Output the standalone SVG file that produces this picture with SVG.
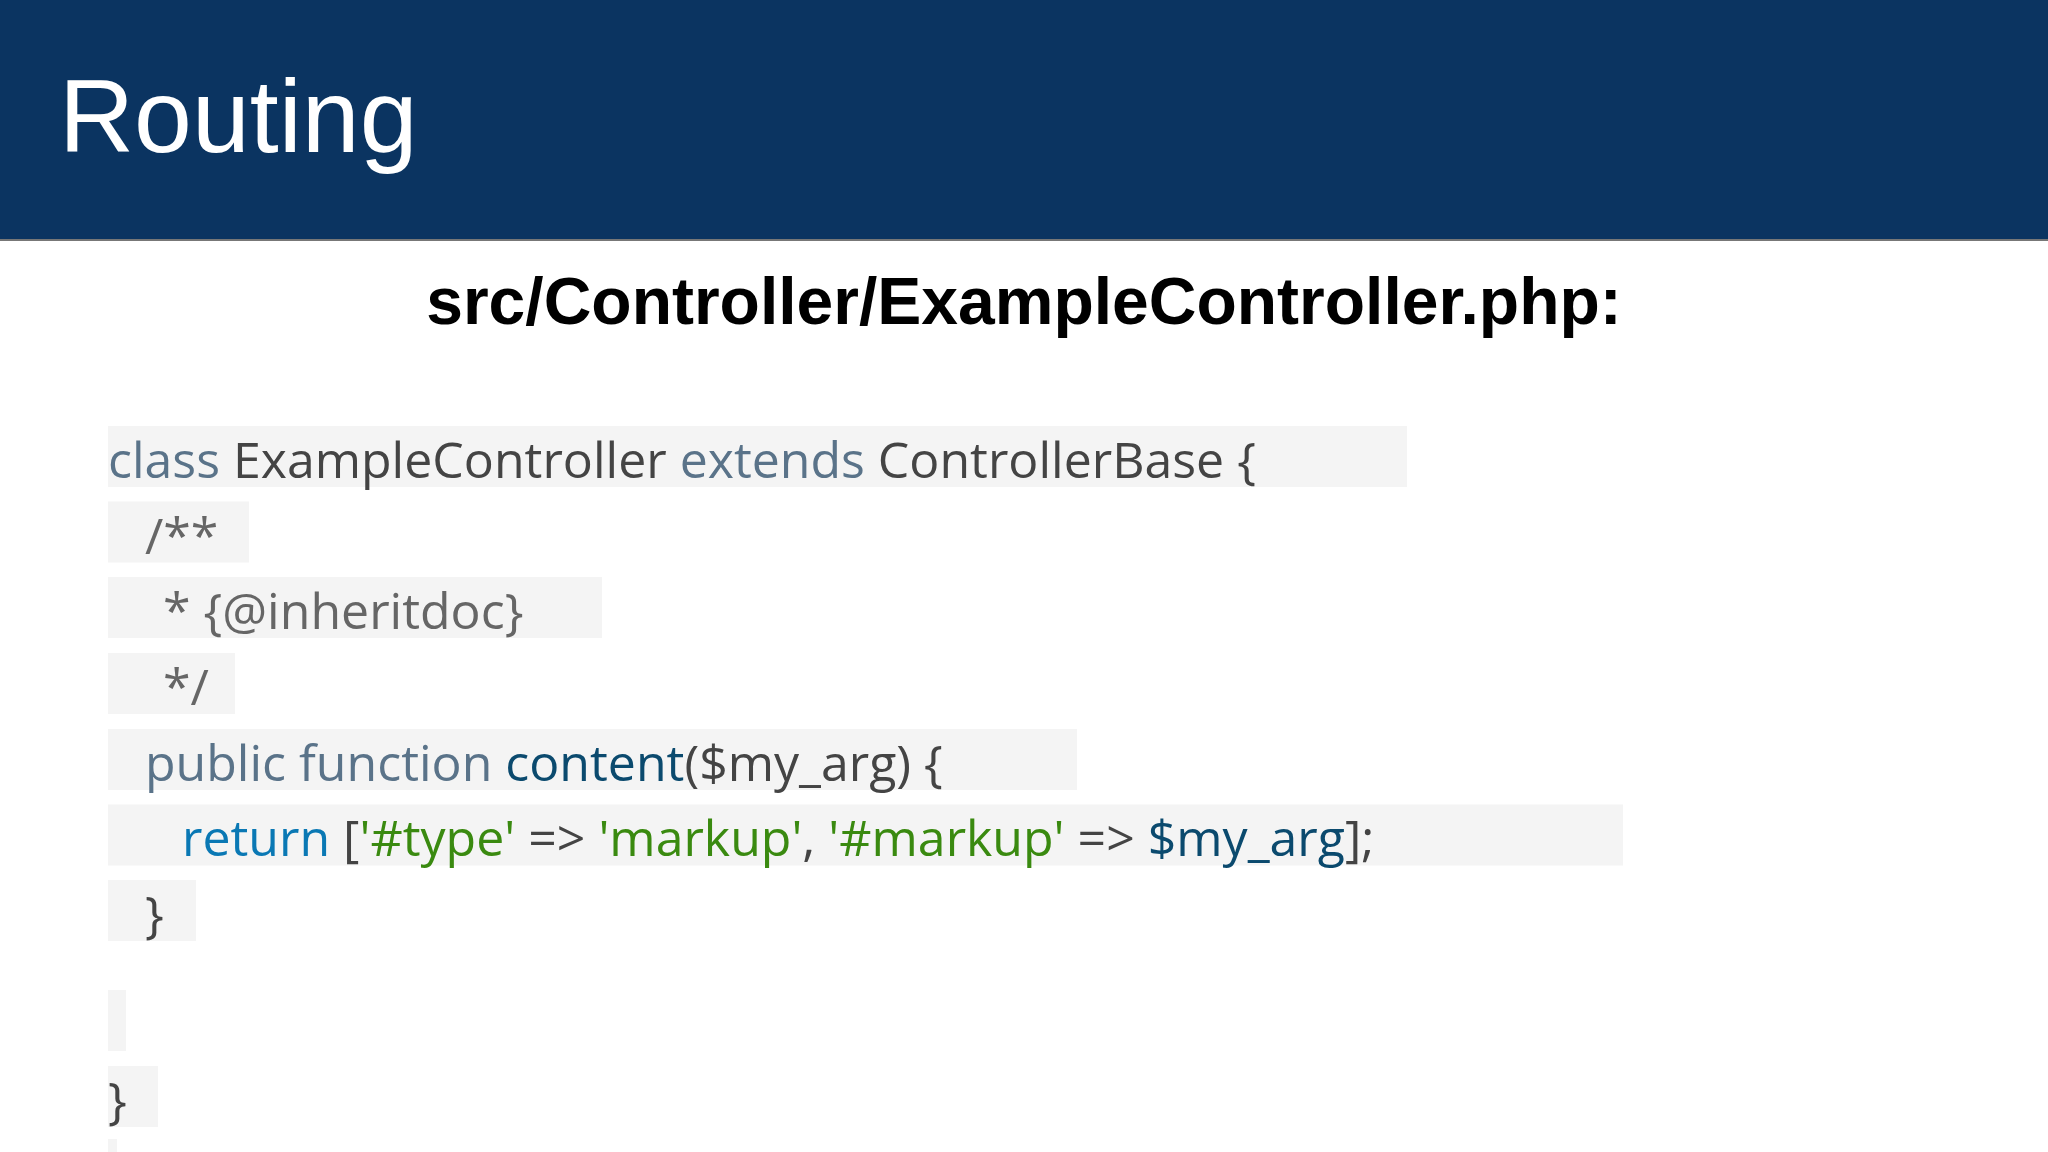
<svg xmlns="http://www.w3.org/2000/svg" width="2048" height="1152" viewBox="0 0 2048 1152">
<style>
.bg{fill:#f4f4f4}
.c{font-family:"Open Sans","Noto Sans",sans-serif;font-size:50px;fill:#444}
.k{fill:#5a7389}.f{fill:#0b4a6e}.r{fill:#0a78b4}.s{fill:#3a8a10}.m{fill:#666}
</style>
<rect width="2048" height="1152" fill="#fff"/>
<g id="header">
<rect x="0" y="0" width="2048" height="240" fill="#0b3461"/>
<rect x="0" y="239" width="2048" height="2" fill="#777"/>
<text x="59" y="152" font-family="Liberation Sans,Arial,sans-serif" font-size="104" fill="#fff">Routing</text>
</g>
<g id="subtitle">
<text x="1024" y="324" text-anchor="middle" font-family="Liberation Sans,Arial,sans-serif" font-weight="bold" font-size="66" fill="#000">src/Controller/ExampleController.php:</text>
</g>
<g id="code">
<rect class="bg" x="108" y="426" width="1299" height="61"/>
<rect class="bg" x="108" y="501.5" width="141" height="61"/>
<rect class="bg" x="108" y="577" width="494" height="61"/>
<rect class="bg" x="108" y="653" width="127" height="61"/>
<rect class="bg" x="108" y="729" width="969" height="61"/>
<rect class="bg" x="108" y="804.5" width="1515" height="61"/>
<rect class="bg" x="108" y="880" width="88" height="61"/>
<rect class="bg" x="108" y="990" width="18" height="61"/>
<rect class="bg" x="108" y="1066" width="50" height="61"/>
<rect class="bg" x="108" y="1139" width="9" height="13"/>
<text class="c" x="108" y="478"><tspan class="k">class</tspan> ExampleController <tspan class="k">extends</tspan> ControllerBase {</text>
<text class="c m" x="145" y="554">/**</text>
<text class="c m" x="163" y="629">* {@inheritdoc}</text>
<text class="c m" x="163" y="705">*/</text>
<text class="c" x="145" y="781"><tspan class="k">public function</tspan> <tspan class="f">content</tspan>($my_arg) {</text>
<text class="c" x="182" y="856"><tspan class="r">return</tspan> [<tspan class="s">'#type'</tspan> =&gt; <tspan class="s">'markup'</tspan>, <tspan class="s">'#markup'</tspan> =&gt; <tspan class="f">$my_arg</tspan>];</text>
<text class="c" x="145" y="932">}</text>
<text class="c" x="108" y="1118">}</text>
</g>
</svg>
